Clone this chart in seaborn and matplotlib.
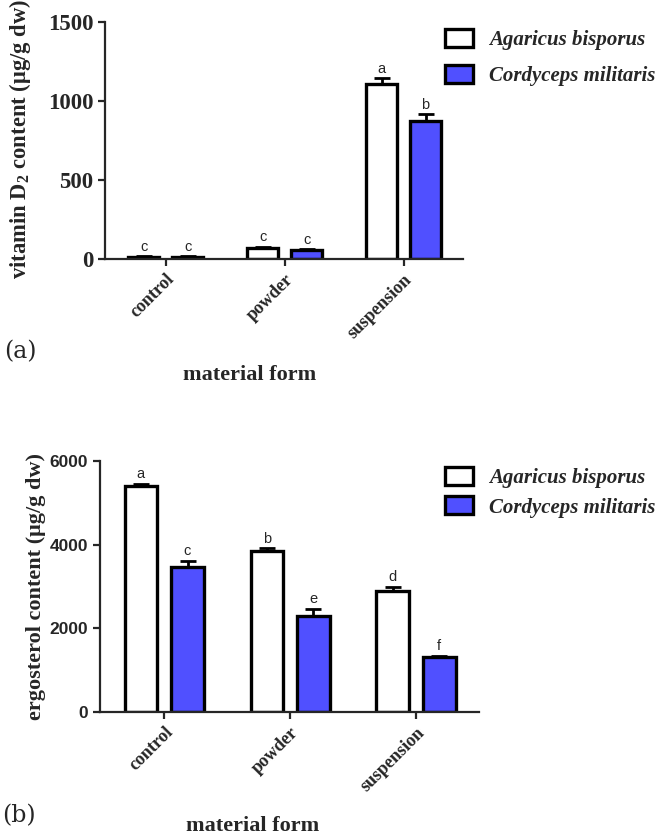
import pandas as pd
import seaborn as sns
import matplotlib.pyplot as plt

# dados
formas = ['control', 'powder', 'suspension']
especies = ['Agaricus bisporus', 'Cordyceps militaris']

vitd2_agaricus = [15, 72, 1108]
vitd2_cordyceps = [14, 57, 875]
vitd2_err_agaricus = [3, 5, 38]
vitd2_err_cordyceps = [3, 5, 42]
vitd2_letras_agaricus = ['c', 'c', 'a']
vitd2_letras_cordyceps = ['c', 'c', 'b']

ergo_agaricus = [5400, 3840, 2890]
ergo_cordyceps = [3460, 2290, 1310]
ergo_err_agaricus = [50, 70, 100]
ergo_err_cordyceps = [150, 170, 25]
ergo_letras_agaricus = ['a', 'b', 'd']
ergo_letras_cordyceps = ['c', 'e', 'f']

azul = '#5050FF'
cores = {especies[0]: 'white', especies[1]: azul}
serif = 'Liberation Serif'
sans = 'Liberation Sans'

sns.set_style('ticks')
plt.rcParams['font.family'] = [serif, 'DejaVu Serif']
plt.rcParams['mathtext.fontset'] = 'custom'
plt.rcParams['mathtext.rm'] = serif
plt.rcParams['mathtext.bf'] = serif + ':bold'

fig = plt.figure(figsize=(6.64, 8.39), dpi=100)
ax_a = fig.add_axes([105 / 664, 1 - 259 / 839, (463 - 105) / 664, (259 - 22) / 839])
ax_b = fig.add_axes([100 / 664, 1 - 712 / 839, (479 - 100) / 664, (712 - 461) / 839])


def painel(ax, v1, v2, e1, e2, l1, l2, ymax, yticks, tickfont, tsize, gap_txt):
    df = pd.DataFrame({
        'forma': formas * 2,
        'especie': [especies[0]] * 3 + [especies[1]] * 3,
        'valor': v1 + v2,
    })
    sns.barplot(data=df, x='forma', y='valor', hue='especie', order=formas,
                hue_order=especies, palette=cores, saturation=1, width=0.74, gap=0.3,
                edgecolor='black', linewidth=2.4, errorbar=None, legend=False, ax=ax)
    for cont, vals, errs, letras in zip(ax.containers, [v1, v2], [e1, e2], [l1, l2]):
        xs = [p.get_x() + p.get_width() / 2 for p in cont.patches]
        ax.errorbar(xs, vals, yerr=[[0] * 3, errs], fmt='none', ecolor='black',
                    elinewidth=2, capsize=6, capthick=2, zorder=1)
        for x, v, e, t in zip(xs, vals, errs, letras):
            ax.text(x, v + e + gap_txt, t, ha='center', va='bottom',
                    fontsize=10.5, family=sans)
    ax.set_xlim(-0.51, 2.5)
    ax.set_ylim(0, ymax)
    ax.set_yticks(yticks)
    ax.set_xlabel('')
    ax.set_ylabel('')
    sns.despine(ax=ax)
    for s in ['left', 'bottom']:
        ax.spines[s].set_linewidth(1.6)
    ax.tick_params(width=1.6, length=5, direction='out')
    ax.set_yticklabels([str(t) for t in yticks], fontsize=tsize,
                       fontweight='bold', family=tickfont)
    ax.set_xticks(range(3))
    ax.set_xticklabels(formas, rotation=45, ha='right', rotation_mode='anchor',
                       fontsize=13, fontweight='bold', family=serif)


painel(ax_a, vitd2_agaricus, vitd2_cordyceps, vitd2_err_agaricus, vitd2_err_cordyceps,
       vitd2_letras_agaricus, vitd2_letras_cordyceps, 1500, [0, 500, 1000, 1500],
       serif, 16.5, 15)
painel(ax_b, ergo_agaricus, ergo_cordyceps, ergo_err_agaricus, ergo_err_cordyceps,
       ergo_letras_agaricus, ergo_letras_cordyceps, 6000, [0, 2000, 4000, 6000],
       sans, 12.5, 70)

# rotulos dos eixos
fig.text(20 / 664, 1 - 139 / 839, r'vitamin D$_\mathbf{2}$ content (μg/g dw)',
         rotation=90, ha='center', va='center', fontsize=16.3, fontweight='bold')
fig.text(36 / 664, 1 - 586 / 839, 'ergosterol content (μg/g dw)',
         rotation=90, ha='center', va='center', fontsize=16, fontweight='bold')
fig.text(250 / 664, 1 - 375 / 839, 'material form', ha='center', va='center',
         fontsize=16, fontweight='bold')
fig.text(253 / 664, 1 - 826 / 839, 'material form', ha='center', va='center',
         fontsize=16, fontweight='bold')
fig.text(4 / 664, 1 - 352 / 839, '(a)', ha='left', va='center', fontsize=17,
         family='DejaVu Serif')
fig.text(2 / 664, 1 - 816 / 839, '(b)', ha='left', va='center', fontsize=17,
         family='DejaVu Serif')

# legendas
handles = [plt.Rectangle((0, 0), 1, 1, facecolor=cores[e], edgecolor='black',
                         linewidth=2.4) for e in especies]
for ax, y, sp in [(ax_a, 1 - 29 / 839, 0.7), (ax_b, 1 - 467 / 839, 0.4)]:
    fig.legend(handles, especies, loc='upper left', bbox_to_anchor=(445 / 664, y),
               frameon=False, borderpad=0, borderaxespad=0, handlelength=1.35,
               handleheight=0.95, handletextpad=0.75, labelspacing=sp,
               prop={'family': serif, 'style': 'italic', 'weight': 'bold', 'size': 15})

fig.savefig('out.png', dpi=100)
